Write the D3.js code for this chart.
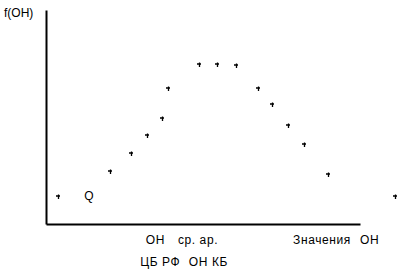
<!DOCTYPE html>
<html><head><meta charset="utf-8">
<script src="https://cdn.jsdelivr.net/npm/d3@7"></script>
<style>body{margin:0;background:#fff}text{font-family:"Liberation Sans",Arial,sans-serif;font-size:12px;fill:#000}</style>
</head><body>
<svg id="c" width="405" height="276"></svg>
<script>
const xValues = [3.8, 20.4, 27.0, 32.1, 36.9, 38.9, 48.7, 54.5, 60.5, 67.4, 72.0, 77.0, 82.2, 89.8, 111.0];
const yValues = [12.8, 24.3, 32.7, 41.1, 49.2, 63.1, 74.3, 74.3, 74.0, 63.1, 55.7, 45.8, 36.9, 23.0, 12.8];
const yTitle = "f(ОН)";
const pointLabel = "Q";
const pointLabelPos = [13.7, 13.0];
const xLabels = [
  {t:"ОН", x:31.8, row:0},{t:"ср. ар.", x:42.0, row:0},
  {t:"Значения", x:78.7, row:0},{t:"ОН", x:100.0, row:0},
  {t:"ЦБ РФ", x:30.0, row:1},{t:"ОН КБ", x:45.5, row:1}
];

const svg = d3.select("#c");
const x = d3.scaleLinear().domain([0,100]).range([46,360]);
const y = d3.scaleLinear().domain([0,100]).range([224,10]);

svg.append("g").attr("transform","translate(0,224)")
  .call(d3.axisBottom(x).tickValues([]).tickSizeOuter(0))
  .select(".domain").attr("stroke","#000").attr("stroke-width",2);
svg.append("g").attr("transform","translate(46,0)")
  .call(d3.axisLeft(y).tickValues([]).tickSizeOuter(0))
  .select(".domain").attr("stroke","#000").attr("stroke-width",2);

const data = xValues.map((v,i)=>({x:v,y:yValues[i]}));
svg.append("g").selectAll("path").data(data).join("path")
  .attr("transform",d=>`translate(${Math.round(x(d.x))},${Math.round(y(d.y))})`)
  .attr("d","M-2,-1H2M0.5,-2.5V2")
  .attr("stroke","#000").attr("stroke-width",1.3).attr("fill","none");

svg.append("text").attr("x",x(pointLabelPos[0])).attr("y",y(pointLabelPos[1])+4).attr("text-anchor","middle").text(pointLabel);
svg.append("text").attr("x",4).attr("y",17).text(yTitle);
svg.selectAll("text.xl").data(xLabels).join("text").attr("class","xl")
  .attr("x",d=>x(d.x)).attr("y",d=>244+d.row*22).attr("letter-spacing","0.6").text(d=>d.t);
</script>
</body></html>
